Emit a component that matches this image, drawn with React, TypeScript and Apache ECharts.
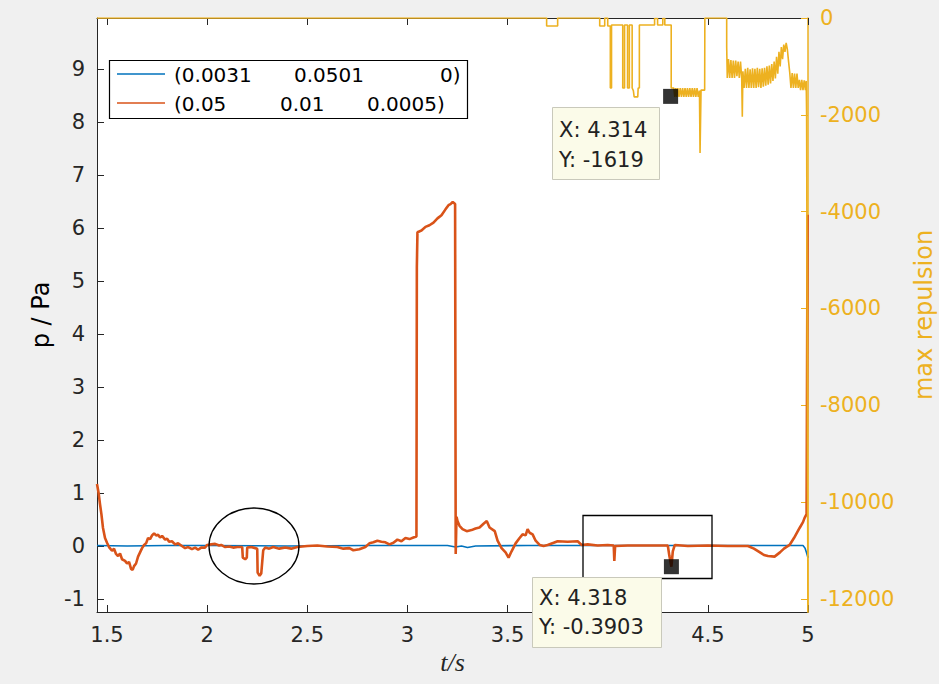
import React, { useEffect, useRef } from "react";
import * as echarts from "echarts";

// ---------- tick values ----------
const xTickValues = [1.5, 2, 2.5, 3, 3.5, 4, 4.5, 5];
// the "4" label is hidden under the data tip in the reference
const xLabelValues = [1.5, 2, 2.5, 3, 3.5, 4.5, 5];
const leftTickValues = [-1, 0, 1, 2, 3, 4, 5, 6, 7, 8, 9];
const rightTickValues = [-12000, -10000, -8000, -6000, -4000, -2000, 0];

// ---------- legend ----------
const seriesNames = ["(0.0031 0.0501 0)", "(0.05 0.01 0.0005)"];
const legendRow1 = ["(0.0031", "0.0501", "0)"];
const legendRow2 = ["(0.05", "0.01", "0.0005)"];

// ---------- blue series (p / Pa) ----------
const blueT = [1.45, 1.6, 1.8, 2.0, 2.4, 2.8, 3.2, 3.24, 3.27, 3.3, 3.34, 3.6, 4.0, 4.4, 4.8, 4.975, 4.985, 4.992, 5.0];
const blueV = [0.01, 0.0, 0.01, 0.01, 0.0, 0.01, 0.01, -0.02, 0.0, -0.03, 0.0, 0.01, 0.01, 0.01, 0.01, 0.01, -0.04, -0.12, -0.22];

// ---------- orange series (p / Pa) ----------
const orangeT = [
  1.45, 1.458, 1.465, 1.472, 1.48, 1.49, 1.5, 1.51, 1.525, 1.535, 1.545, 1.555, 1.565, 1.575, 1.59, 1.6,
  1.61, 1.62, 1.628, 1.635, 1.645, 1.655, 1.665, 1.675, 1.685, 1.695, 1.705, 1.715, 1.725, 1.735, 1.745,
  1.755, 1.765, 1.775, 1.79, 1.8, 1.81, 1.824, 1.84, 1.855, 1.874, 1.89, 1.905, 1.924, 1.94, 1.955, 1.97,
  1.989, 2.0, 2.02, 2.04, 2.06, 2.07, 2.09, 2.11, 2.13, 2.15, 2.175, 2.178, 2.19, 2.198, 2.2, 2.22, 2.24,
  2.25, 2.252, 2.262, 2.27, 2.275, 2.28, 2.29, 2.31, 2.33, 2.36, 2.39, 2.42, 2.45, 2.5, 2.55, 2.6, 2.65,
  2.68, 2.71, 2.73, 2.76, 2.79, 2.81, 2.83, 2.85, 2.87, 2.89, 2.91, 2.93, 2.95, 2.97, 2.99, 3.01, 3.03,
  3.045, 3.047, 3.05, 3.07, 3.09, 3.11, 3.13, 3.15, 3.17, 3.19, 3.205, 3.215, 3.226, 3.238, 3.241, 3.245,
  3.25, 3.26, 3.275, 3.296, 3.32, 3.34, 3.36, 3.38, 3.396, 3.41, 3.436, 3.45, 3.47, 3.49, 3.505, 3.52,
  3.54, 3.56, 3.575, 3.59, 3.6, 3.61, 3.625, 3.64, 3.66, 3.68, 3.7, 3.73, 3.75, 3.8, 3.85, 3.87, 3.9,
  3.95, 4.0, 4.03, 4.033, 4.037, 4.1, 4.2, 4.3, 4.308, 4.318, 4.325, 4.335, 4.4, 4.5, 4.6, 4.7, 4.73,
  4.76, 4.78, 4.8, 4.833, 4.86, 4.88, 4.908, 4.93, 4.958, 4.975, 4.983, 4.993, 4.998,
];
const orangeV = [
  1.17, 1.0, 0.79, 0.6, 0.34, 0.15, 0.06, -0.02, -0.09, -0.05, -0.15, -0.19, -0.14, -0.25, -0.28, -0.33,
  -0.3, -0.43, -0.45, -0.38, -0.33, -0.2, -0.12, -0.04, 0.02, 0.05, 0.15, 0.13, 0.2, 0.24, 0.2,
  0.21, 0.16, 0.19, 0.12, 0.14, 0.08, 0.09, 0.03, 0.05, 0.0, -0.04, -0.02, -0.06, -0.03, -0.07, -0.03,
  -0.03, 0.02, 0.03, 0.04, 0.01, 0.02, -0.02, -0.01, -0.03, -0.02, -0.02, -0.22, -0.25, -0.22, -0.03, -0.02, -0.04,
  -0.05, -0.5, -0.56, -0.52, -0.3, -0.08, -0.03, -0.05, -0.02, -0.05, -0.03, -0.05, -0.02, 0.0, 0.01, -0.01, -0.02,
  -0.05, -0.04, -0.08, -0.06, -0.02, 0.05, 0.07, 0.1, 0.08, 0.07, 0.03, 0.06, 0.12, 0.09, 0.15, 0.13, 0.16,
  0.18, 5.26, 5.92, 5.95, 6.02, 6.05, 6.1, 6.18, 6.24, 6.35, 6.43, 6.45, 6.49, 6.45, -0.15, 0.55,
  0.47, 0.38, 0.32, 0.28, 0.3, 0.33, 0.35, 0.42, 0.47, 0.35, 0.28, 0.1, -0.04, -0.12, -0.22, -0.1,
  0.05, 0.15, 0.22, 0.2, 0.32, 0.25, 0.22, 0.1, 0.02, 0.0, 0.02, 0.06, 0.09, 0.08, 0.09, 0.02, 0.03,
  0.01, 0.02, 0.01, -0.28, 0.0, 0.01, 0.01, 0.01, -0.19, -0.39, -0.1, 0.02, 0.0, 0.01, 0.0, 0.0, -0.05,
  -0.12, -0.17, -0.19, -0.2, -0.12, -0.05, 0.02, 0.15, 0.34, 0.45, 0.53, 0.6, 6.25,
];

// ---------- yellow series (max repulsion, right axis) ----------
const yellowT = [
  1.45, 3.695, 3.695, 3.75, 3.75, 3.96, 3.96, 3.985, 3.985, 4.0, 4.0, 4.013, 4.013, 4.019, 4.019, 4.075,
  4.075, 4.084, 4.084, 4.099, 4.099, 4.108, 4.108, 4.122, 4.122, 4.128, 4.132, 4.15, 4.152, 4.158, 4.158,
  4.234, 4.234, 4.249, 4.249, 4.275, 4.275, 4.285, 4.285, 4.317, 4.317, 4.33,
  4.335, 4.34, 4.345, 4.35, 4.356, 4.362, 4.368, 4.374, 4.38, 4.386, 4.392, 4.398, 4.404, 4.41, 4.416,
  4.422, 4.428, 4.434, 4.44, 4.446, 4.452, 4.458, 4.461, 4.466, 4.484, 4.485, 4.594, 4.594, 4.597,
  4.603, 4.609, 4.615, 4.621, 4.627, 4.633, 4.639, 4.645, 4.651, 4.657, 4.663, 4.669, 4.672, 4.675,
  4.681, 4.687, 4.693, 4.699, 4.705, 4.711, 4.717, 4.723, 4.729, 4.735, 4.741, 4.747, 4.753, 4.759,
  4.765, 4.771, 4.777, 4.783, 4.789, 4.795, 4.801, 4.807, 4.813, 4.819, 4.825, 4.831, 4.837, 4.843,
  4.849, 4.855, 4.861, 4.867, 4.873, 4.879, 4.885, 4.891, 4.897, 4.903, 4.909,
  4.915, 4.921, 4.927, 4.933, 4.939, 4.945, 4.951, 4.957,
  4.963, 4.969, 4.975, 4.981, 4.987, 4.991, 4.993, 5.0,
];
const yellowV = [
  0, 0, -165, -165, 0, 0, -165, -165, 0, 0, -165, -165, -1446, -1446, -145, -145,
  -1446, -1446, -145, -145, -1446, -1446, -145, -145, -1446, -1500, -1630, -1630, -1446, -1446, -145,
  -145, -10, -10, -145, -145, -10, -10, -145, -145, -1446, -1446,
  -1630, -1446, -1630, -1446, -1630, -1446, -1630, -1446, -1630, -1446, -1630, -1446, -1630, -1446, -1630,
  -1446, -1630, -1446, -1630, -1446, -1630, -1500, -2790, -1490, -1490, 0, 0, -600, -1240,
  -850, -1240, -870, -1240, -880, -1240, -880, -1200, -900, -1240, -900, -1240, -2040, -1100,
  -1446, -1050, -1446, -1030, -1446, -1060, -1446, -1040, -1446, -1050, -1446, -1030, -1430, -1050,
  -1446, -1040, -1420, -1030, -1400, -1000, -1380, -980, -1350, -950, -1300, -900, -1250, -800,
  -1150, -700, -1000, -600, -850, -550, -700, -515, -650, -900, -1135,
  -1446, -1135, -1446, -1150, -1446, -1150, -1446, -1280,
  -1490, -1280, -1490, -1290, -1490, -1300, -1960, -13000,
];

// ---------- data tips ----------
const tipRight = [4.314, -1619];
const tipLeft = [4.318, -0.3903];
const tipRightText = ["X: 4.314", "Y: -1619"];
const tipLeftText = ["X: 4.318", "Y: -0.3903"];

export default function App() {
  const ref = useRef<HTMLDivElement>(null);
  useEffect(() => {
    const chart = echarts.init(ref.current!, null, { renderer: "svg" });
    const BLUE = "#0072BD";
    const ORANGE = "#D95319";
    const YEL = "#EDB120";
    const AX = "#262626";
    const FONT = "DejaVu Sans";
    const pair = (t: number[], v: number[]) => t.map((x, i) => [x, v[i]]);

    const xAxisBase = {
      type: "value",
      min: 1.45,
      max: 5,
      splitLine: { show: false },
      axisLine: { show: true, onZero: false, lineStyle: { color: AX, width: 1 } },
      axisTick: { show: true, inside: true, length: 7, customValues: xTickValues, lineStyle: { color: AX } },
    };

    const legendFont = `20px "${FONT}"`;
    const tipFont = `21px "${FONT}"`;

    const option = {
      animation: false,
      backgroundColor: "#f0f0f0",
      textStyle: { fontFamily: FONT },
      grid: {
        left: 97,
        top: 18,
        width: 711,
        height: 594,
        show: true,
        backgroundColor: "#ffffff",
        borderWidth: 0,
        containLabel: false,
        outerBoundsMode: "none",
      },
      xAxis: [
        {
          ...xAxisBase,
          position: "bottom",
          name: "t/s",
          nameLocation: "middle",
          nameGap: 35,
          nameTextStyle: { fontFamily: "Liberation Serif", fontStyle: "italic", fontSize: 26, color: AX },
          axisLabel: {
            show: true,
            customValues: xLabelValues,
            margin: 12,
            fontSize: 21,
            color: AX,
            fontFamily: FONT,
            formatter: (v: number) => String(v),
          },
        },
        {
          ...xAxisBase,
          position: "top",
          axisLabel: { show: false },
        },
      ],
      yAxis: [
        {
          type: "value",
          position: "left",
          min: -1.245,
          max: 9.96,
          splitLine: { show: false },
          axisLine: { show: true, onZero: false, lineStyle: { color: AX, width: 1 } },
          axisTick: { show: true, inside: true, length: 7, customValues: leftTickValues, lineStyle: { color: AX } },
          axisLabel: {
            customValues: leftTickValues,
            margin: 12,
            fontSize: 21,
            color: AX,
            fontFamily: FONT,
            formatter: (v: number) => String(v),
          },
          name: "p / Pa",
          nameLocation: "middle",
          nameRotate: 90,
          nameGap: 40,
          nameTextStyle: { fontSize: 24, color: "#000", fontFamily: FONT },
        },
        {
          type: "value",
          position: "right",
          min: -12270,
          max: 0,
          splitLine: { show: false },
          axisLine: { show: true, onZero: false, lineStyle: { color: YEL, width: 1.5 } },
          axisTick: { show: true, inside: true, length: 7, customValues: rightTickValues, lineStyle: { color: YEL } },
          axisLabel: {
            customValues: rightTickValues,
            margin: 12,
            fontSize: 21,
            color: YEL,
            fontFamily: FONT,
            formatter: (v: number) => String(v),
          },
          name: "max repulsion",
          nameLocation: "middle",
          nameRotate: 90,
          nameGap: 104,
          nameTextStyle: { fontSize: 24, color: YEL, fontFamily: FONT },
        },
      ],
      series: [
        {
          name: seriesNames[0],
          type: "line",
          xAxisIndex: 0,
          yAxisIndex: 0,
          data: pair(blueT, blueV),
          showSymbol: false,
          symbol: "none",
          lineStyle: { color: BLUE, width: 1.6 },
          z: 2,
        },
        {
          name: seriesNames[1],
          type: "line",
          xAxisIndex: 0,
          yAxisIndex: 0,
          data: pair(orangeT, orangeV),
          showSymbol: false,
          symbol: "none",
          lineStyle: { color: ORANGE, width: 2.6 },
          z: 3,
        },
        {
          name: "max repulsion",
          type: "line",
          xAxisIndex: 0,
          yAxisIndex: 1,
          data: pair(yellowT, yellowV),
          showSymbol: false,
          symbol: "none",
          lineStyle: { color: YEL, width: 1.6 },
          z: 4,
        },
        {
          name: "tipRight",
          type: "scatter",
          xAxisIndex: 0,
          yAxisIndex: 1,
          data: [tipRight],
          symbol: "rect",
          symbolSize: 15,
          itemStyle: { color: "#000" },
          z: 6,
        },
        {
          name: "tipLeft",
          type: "scatter",
          xAxisIndex: 0,
          yAxisIndex: 0,
          data: [tipLeft],
          symbol: "rect",
          symbolSize: 15,
          itemStyle: { color: "#000" },
          z: 6,
        },
      ],
      graphic: [
        // legend
        {
          type: "rect",
          z: 100,
          shape: { x: 109.5, y: 60.5, width: 358, height: 58 },
          style: { fill: "#ffffff", stroke: "#000", lineWidth: 1.2 },
        },
        { type: "line", z: 101, shape: { x1: 117, y1: 74, x2: 165, y2: 74 }, style: { stroke: BLUE, lineWidth: 1.6 } },
        { type: "line", z: 101, shape: { x1: 117, y1: 103, x2: 165, y2: 103 }, style: { stroke: ORANGE, lineWidth: 1.6 } },
        { type: "text", z: 101, x: 174, y: 75, style: { text: legendRow1[0], font: legendFont, fill: "#000", verticalAlign: "middle" } },
        { type: "text", z: 101, x: 294, y: 75, style: { text: legendRow1[1], font: legendFont, fill: "#000", verticalAlign: "middle" } },
        { type: "text", z: 101, x: 440, y: 75, style: { text: legendRow1[2], font: legendFont, fill: "#000", verticalAlign: "middle" } },
        { type: "text", z: 101, x: 174, y: 104, style: { text: legendRow2[0], font: legendFont, fill: "#000", verticalAlign: "middle" } },
        { type: "text", z: 101, x: 280, y: 104, style: { text: legendRow2[1], font: legendFont, fill: "#000", verticalAlign: "middle" } },
        { type: "text", z: 101, x: 367, y: 104, style: { text: legendRow2[2], font: legendFont, fill: "#000", verticalAlign: "middle" } },
        // annotations
        {
          type: "ellipse",
          z: 100,
          shape: { cx: 254, cy: 546, rx: 45, ry: 38 },
          style: { fill: "none", stroke: "#000", lineWidth: 1.3 },
        },
        {
          type: "rect",
          z: 100,
          shape: { x: 583, y: 515.5, width: 129, height: 63 },
          style: { fill: "none", stroke: "#000", lineWidth: 1.3 },
        },
        // data tip (right axis)
        {
          type: "rect",
          z: 100,
          shape: { x: 552.5, y: 107.5, width: 107, height: 72 },
          style: { fill: "#fbfbe9", stroke: "#c9c9bb", lineWidth: 1 },
        },
        { type: "text", z: 101, x: 559, y: 130, style: { text: tipRightText[0], font: tipFont, fill: "#222", verticalAlign: "middle" } },
        { type: "text", z: 101, x: 559, y: 160, style: { text: tipRightText[1], font: tipFont, fill: "#222", verticalAlign: "middle" } },
        // data tip (left axis)
        {
          type: "rect",
          z: 100,
          shape: { x: 532.5, y: 577.5, width: 129, height: 70 },
          style: { fill: "#fbfbe9", stroke: "#c9c9bb", lineWidth: 1 },
        },
        { type: "text", z: 101, x: 539, y: 598, style: { text: tipLeftText[0], font: tipFont, fill: "#222", verticalAlign: "middle" } },
        { type: "text", z: 101, x: 539, y: 627, style: { text: tipLeftText[1], font: tipFont, fill: "#222", verticalAlign: "middle" } },
      ],
    };

    chart.setOption(option as any);
    return () => chart.dispose();
  }, []);

  return (
    <div
      ref={ref}
      style={{ position: "fixed", left: 0, top: 0, width: 939, height: 684, background: "#f0f0f0" }}
    />
  );
}
